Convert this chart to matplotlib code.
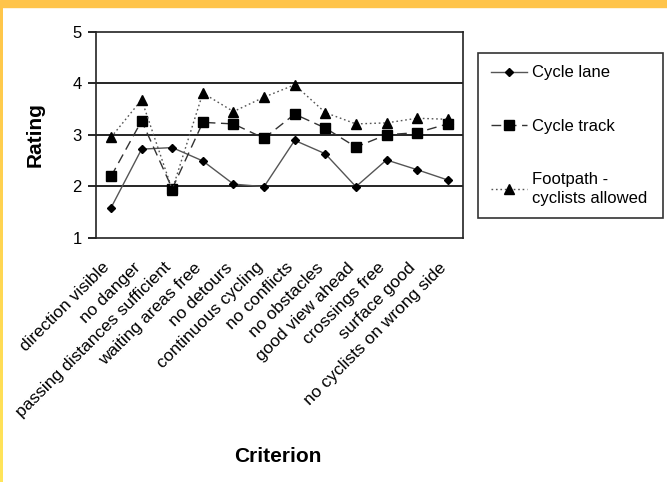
import numpy as np
import matplotlib
matplotlib.use("Agg")
import matplotlib.pyplot as plt
from matplotlib.patches import Rectangle
from matplotlib.colors import LinearSegmentedColormap
from matplotlib.transforms import ScaledTranslation

plt.rcParams['font.family'] = ['Liberation Sans', 'DejaVu Sans']

# data
criteria = ["direction visible", "no danger", "passing distances sufficient",
            "waiting areas free", "no detours", "continuous cycling",
            "no conflicts", "no obstacles", "good view ahead", "crossings free",
            "surface good", "no cyclists on wrong side"]
cycle_lane = [1.58, 2.72, 2.75, 2.49, 2.04, 1.99, 2.89, 2.63, 1.99, 2.51, 2.32, 2.12]
cycle_track = [2.19, 3.27, 1.95, 3.24, 3.21, 2.93, 3.40, 3.13, 2.76, 3.00, 3.04, 3.21]
footpath = [2.95, 3.68, 1.93, 3.81, 3.45, 3.73, 3.97, 3.43, 3.21, 3.23, 3.32, 3.30]

fig = plt.figure(figsize=(6.67, 4.82), dpi=100)

# orange / yellow frame of the slide
fig.patches.append(Rectangle((0, 1 - 7/482), 1, 7/482, transform=fig.transFigure,
                             color='#FFC44A', zorder=0))
band = fig.add_axes([0, 0, 3/667, 1 - 7/482])
grad = np.linspace(0, 1, 100).reshape(-1, 1)
cm = LinearSegmentedColormap.from_list('bd', ['#FFC64A', '#FFE55A'])
band.imshow(grad, aspect='auto', cmap=cm, extent=[0, 1, 0, 1], origin='upper')
band.axis('off')

ax = fig.add_axes([0.1435, 0.507, 0.5507, 0.427])
x = np.arange(len(criteria)) + 0.5

ax.plot(x, cycle_lane, color='#555555', lw=1.0, marker='D', ms=4.5,
        mfc='black', mec='black', label='Cycle lane')
ax.plot(x, cycle_track, color='#333333', lw=1.0, ls=(0, (7, 4)), marker='s', ms=7,
        mfc='black', mec='black', label='Cycle track')
ax.plot(x, footpath, color='#555555', lw=1.0, ls=(0, (1.2, 2)), marker='^', ms=7,
        mfc='black', mec='black', label='Footpath -\ncyclists allowed')

for v in [2, 3, 4]:
    ax.axhline(v, color='black', lw=1.2, zorder=0)

ax.set_xlim(0, len(criteria))
ax.set_ylim(1, 5)
ax.set_yticks([1, 2, 3, 4, 5])
ax.set_xticks(x)
ax.set_xticklabels(criteria, rotation=45, ha='right', rotation_mode='anchor',
                   fontsize=12.5)
ax.tick_params(axis='x', length=0, pad=16)
ax.tick_params(axis='y', length=6, width=1.2, labelsize=12, pad=4)
# shift the slanted labels a bit to the left
shift = ScaledTranslation(-9/100, 0, fig.dpi_scale_trans)
for lab in ax.get_xticklabels():
    lab.set_transform(lab.get_transform() + shift)
for s in ax.spines.values():
    s.set_linewidth(1.2)
    s.set_color('#222222')

fig.text(0.053, 0.72, 'Rating', rotation=90, fontsize=15, fontweight='bold',
         ha='center', va='center')
fig.text(0.417, 0.052, 'Criterion', fontsize=15, fontweight='bold',
         ha='center', va='center')

leg = ax.legend(loc='upper left', bbox_to_anchor=(478/667, 1 - 218/482, 185/667, 165/482),
                bbox_transform=fig.transFigure, mode='expand', fontsize=12,
                frameon=True, fancybox=False, edgecolor='black', handlelength=2.2,
                labelspacing=2.3, borderpad=0.75, handletextpad=0.3, borderaxespad=0)
leg.get_frame().set_linewidth(1.2)
for t in leg.get_texts():
    t.set_linespacing(1.3)

fig.savefig('out.png', dpi=100)
